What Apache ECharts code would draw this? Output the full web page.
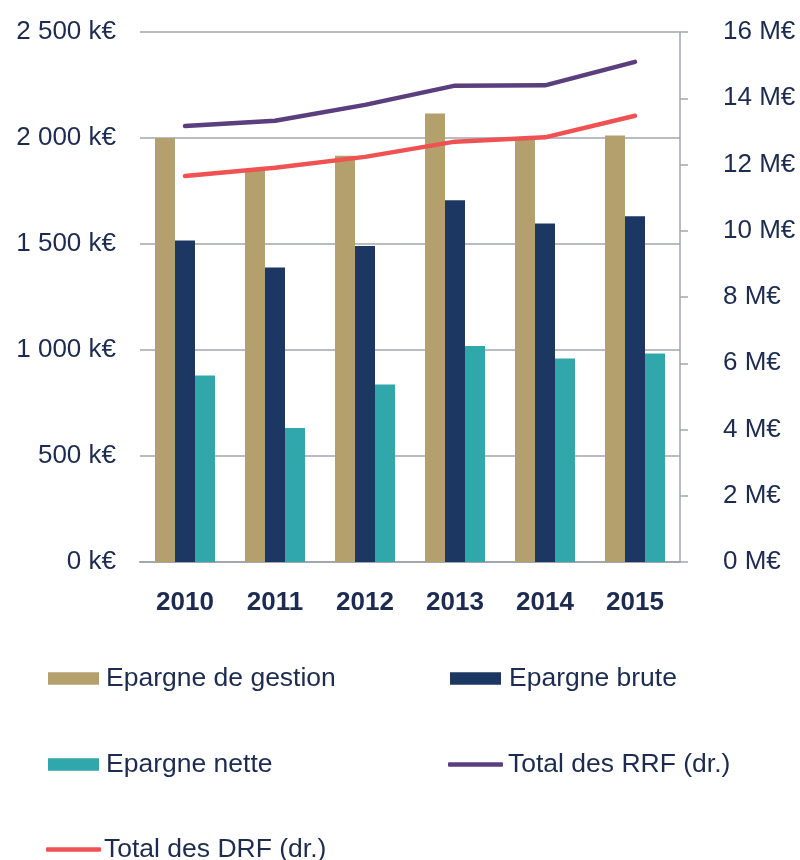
<!DOCTYPE html>
<html>
<head>
<meta charset="utf-8">
<script src="https://cdn.jsdelivr.net/npm/echarts@6/dist/echarts.min.js"></script>
<style>html,body{margin:0;padding:0;background:#fff}#c{width:800px;height:860px}</style>
</head>
<body>
<div id="c"></div>
<script>
var categories = ['2010', '2011', '2012', '2013', '2014', '2015'];
// k€ (left axis)
var epargneGestion = [2000, 1845, 1916, 2116, 1995, 2012];
var epargneBrute = [1517, 1389, 1491, 1706, 1597, 1631];
var epargneNette = [880, 632, 837, 1019, 960, 983];
// M€ (right axis)
var totalRRF = [13.16, 13.32, 13.8, 14.38, 14.39, 15.1];
var totalDRF = [11.65, 11.9, 12.23, 12.69, 12.82, 13.47];
var seriesNames = ['Epargne de gestion', 'Epargne brute', 'Epargne nette', 'Total des RRF (dr.)', 'Total des DRF (dr.)'];

var txt = '#1C2B4F';
var gridCol = '#A3A6AF';
var colors = ['#B3A06C', '#1C3862', '#2FA7AB', '#5A3E7E', '#EF5252'];

function fmtK(v) {
  if (v >= 1000) {
    var r = String(v % 1000);
    while (r.length < 3) r = '0' + r;
    return Math.floor(v / 1000) + ' ' + r + ' k€';
  }
  return v + ' k€';
}

function legendItem(i, left, top, isLine, padLeft) {
  return {
    data: [seriesNames[i]],
    left: left, top: top,
    icon: isLine ? 'roundRect' : 'rect',
    itemWidth: isLine ? 55 : 51,
    itemHeight: isLine ? 4.5 : 12.5,
    itemGap: 0,
    padding: 0,
    textStyle: {color: txt, fontSize: 26.5, lineHeight: 26, fontFamily: '"Liberation Sans", Arial, sans-serif', padding: [0, 0, 0, padLeft]},
    selectedMode: false
  };
}

var chart = echarts.init(document.getElementById('c'));
chart.setOption({
  animation: false,
  textStyle: {fontFamily: '"Liberation Sans", Arial, sans-serif'},
  grid: {left: 140, right: 120, top: 32, bottom: 298, containLabel: false},
  legend: [
    legendItem(0, 48, 665, false, 2),
    legendItem(1, 450, 665, false, 3),
    legendItem(2, 48, 751, false, 2),
    legendItem(3, 448, 751, true, 0),
    legendItem(4, 46, 836, true, -2)
  ],
  xAxis: {
    type: 'category',
    data: categories,
    axisLine: {show: true, lineStyle: {color: gridCol, width: 2}},
    axisTick: {show: false},
    axisLabel: {color: txt, fontSize: 26, fontWeight: 'bold', margin: 28}
  },
  yAxis: [{
    type: 'value', min: 0, max: 2500, interval: 500,
    axisLine: {show: false}, axisTick: {show: false},
    splitLine: {lineStyle: {color: gridCol, width: 1.5}},
    axisLabel: {color: txt, fontSize: 26, margin: 24, formatter: fmtK}
  }, {
    type: 'value', min: 0, max: 16, interval: 2, position: 'right',
    axisLine: {show: true, lineStyle: {color: gridCol, width: 1.5}},
    axisTick: {show: true, length: 8, inside: false, lineStyle: {color: gridCol, width: 1.5}},
    splitLine: {show: false},
    axisLabel: {color: txt, fontSize: 26, margin: 43, formatter: function (v) { return v + ' M€'; }}
  }],
  series: [
    {name: seriesNames[0], type: 'bar', data: epargneGestion, barWidth: 20, barGap: '0%', itemStyle: {color: colors[0]}},
    {name: seriesNames[1], type: 'bar', data: epargneBrute, barWidth: 20, barGap: '0%', itemStyle: {color: colors[1]}},
    {name: seriesNames[2], type: 'bar', data: epargneNette, barWidth: 20, barGap: '0%', itemStyle: {color: colors[2]}},
    {name: seriesNames[3], type: 'line', yAxisIndex: 1, data: totalRRF, symbol: 'none', lineStyle: {color: colors[3], width: 4.5, cap: 'round', join: 'round'}, itemStyle: {color: colors[3]}},
    {name: seriesNames[4], type: 'line', yAxisIndex: 1, data: totalDRF, symbol: 'none', lineStyle: {color: colors[4], width: 4.5, cap: 'round', join: 'round'}, itemStyle: {color: colors[4]}}
  ]
});
</script>
</body>
</html>
